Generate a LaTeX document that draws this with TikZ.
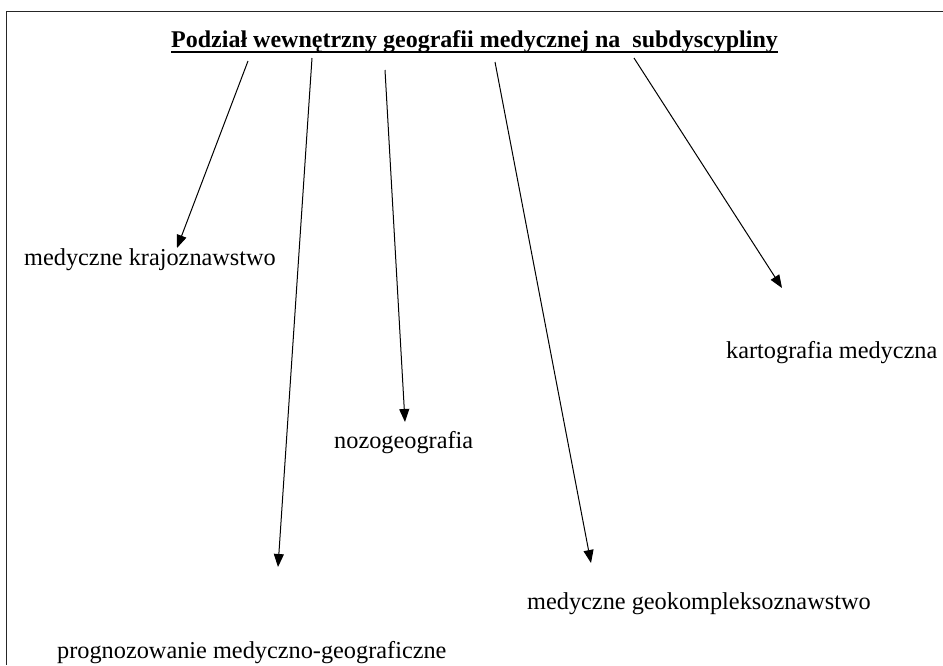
\documentclass[tikz,border=0pt]{standalone}
\usepackage{fontspec}
\setmainfont{Liberation Serif}
\usetikzlibrary{arrows.meta}
\begin{document}
\begin{tikzpicture}[x=1pt,y=-1pt,
  lbl/.style={anchor=base west,inner sep=0pt,font=\fontsize{24.3}{29}\selectfont},
  ttl/.style={anchor=base west,inner sep=0pt,font=\fontsize{24.0}{29}\selectfont\bfseries},
  arr/.style={-{Triangle[length=13pt,width=10pt]},line width=1pt,black},
  frame/.style={line width=1.2pt,black!85}]
\useasboundingbox (0,0) rectangle (943,665);
\draw[frame] (943,11.5) -- (6.5,11.5) -- (6.5,665);
\node[ttl] (title) at (171,47) {Podział wewnętrzny geografii medycznej na\ \ subdyscypliny};
\draw[line width=2.8pt] (title.base west)++(0,5) -- ([yshift=-5pt]title.base east);
\node[lbl] (kraj) at (24,265) {medyczne krajoznawstwo};
\node[lbl] (kart) at (726,358) {kartografia medyczna};
\node[lbl] (nozo) at (334,448) {nozogeografia};
\node[lbl] (geok) at (527,609) {medyczne geokompleksoznawstwo};
\node[lbl] (prog) at (57,658) {prognozowanie medyczno-geograficzne};
\coordinate (s1) at (248,61);
\coordinate (e1) at (177,248);
\coordinate (s2) at (312,58);
\coordinate (e2) at (278,567);
\coordinate (s3) at (385,70);
\coordinate (e3) at (405,422);
\coordinate (s4) at (495,62);
\coordinate (e4) at (591,563);
\coordinate (s5) at (634,58);
\coordinate (e5) at (782,288);
\draw[arr] (s1) -- (e1);
\draw[arr] (s2) -- (e2);
\draw[arr] (s3) -- (e3);
\draw[arr] (s4) -- (e4);
\draw[arr] (s5) -- (e5);
\end{tikzpicture}
\end{document}
